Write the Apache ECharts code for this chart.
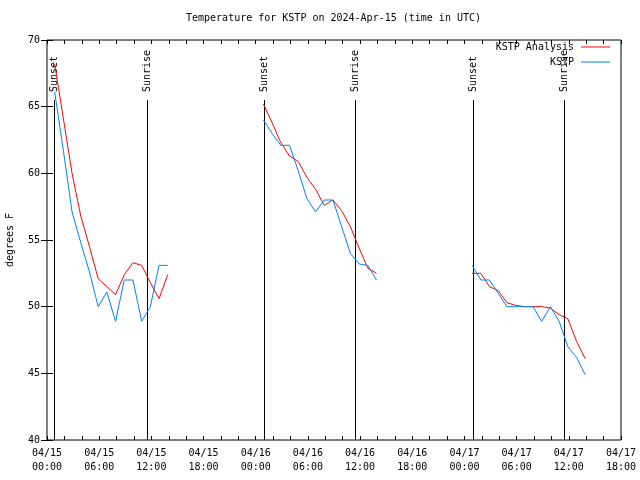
<!DOCTYPE html>
<html>
<head>
<meta charset="utf-8">
<script src="https://cdn.jsdelivr.net/npm/echarts@6/dist/echarts.min.js"></script>
<style>html,body{margin:0;padding:0;background:#fff;}#chart{width:640px;height:480px;}</style>
</head>
<body>
<div id="chart"></div>
<script>
// ---- data ----
const nightDates = ['2024-04-15', '2024-04-16', '2024-04-17'];
const obsTimes = ['00:53','01:53','02:53','03:53','04:53','05:53','06:53','07:53','08:53','09:53','10:53','11:53','12:53','13:53'];
const analysisNight1 = [68.2, 64.1, 60.0, 56.8, 54.5, 52.1, 51.5, 50.9, 52.4, 53.3, 53.1, 51.8, 50.6, 52.4];
const analysisNight2 = [65.2, 63.8, 62.3, 61.3, 60.9, 59.7, 58.8, 57.6, 58.0, 57.2, 56.0, 54.4, 52.9, 52.5];
const analysisNight3 = [52.5, 52.5, 51.5, 51.2, 50.3, 50.1, 50.0, 50.0, 50.0, 49.9, 49.4, 49.1, 47.4, 46.1];
const kstpNight1 = [66.1, 61.7, 57.1, 54.8, 52.6, 50.0, 51.1, 48.9, 52.0, 52.0, 48.9, 50.0, 53.1, 53.1];
const kstpNight2 = [64.0, 63.0, 62.1, 62.1, 60.2, 58.1, 57.1, 58.0, 58.0, 56.0, 54.0, 53.2, 53.1, 52.0];
const kstpNight3 = [53.1, 52.0, 52.0, 51.0, 50.0, 50.0, 50.0, 50.0, 48.9, 50.0, 48.9, 47.0, 46.2, 44.9];
const sunEvents = ['2024-04-15 00:47', '2024-04-15 11:30', '2024-04-16 00:56', '2024-04-16 11:27', '2024-04-17 00:56', '2024-04-17 11:30'];
const sunLabels = ['Sunset', 'Sunrise', 'Sunset', 'Sunrise', 'Sunset', 'Sunrise'];
const yTicks = [40, 45, 50, 55, 60, 65, 70];
const titleText = 'Temperature for KSTP on 2024-Apr-15 (time in UTC)';

// ---- helpers ----
const START = Date.parse('2024-04-15T00:00:00Z');
function hrs(str) { return (Date.parse(str.replace(' ', 'T') + ':00Z') - START) / 3600000; }
function nightData(dateIdx, vals) {
  return vals.map((v, i) => [hrs(nightDates[dateIdx] + ' ' + obsTimes[i]), v]);
}
const FONT = 'DejaVu Sans Mono';
const RED = '#ff0000', BLUE = '#0080ff';
function pad(n) { return (n < 10 ? '0' : '') + n; }

const analysisSets = [analysisNight1, analysisNight2, analysisNight3];
const kstpSets = [kstpNight1, kstpNight2, kstpNight3];
const series = [];
analysisSets.forEach((vals, i) => series.push({
  type: 'line', name: 'KSTP Analysis', data: nightData(i, vals), showSymbol: false,
  lineStyle: { color: RED, width: 1 }, itemStyle: { color: RED }, z: 3
}));
kstpSets.forEach((vals, i) => series.push({
  type: 'line', name: 'KSTP', data: nightData(i, vals), showSymbol: false,
  lineStyle: { color: BLUE, width: 1 }, itemStyle: { color: BLUE }, z: 4
}));
series.push({
  type: 'custom', name: 'sun', silent: true, z: 2,
  data: sunEvents.map(s => [hrs(s)]),
  renderItem: function (params, api) {
    const x = api.value(0);
    const p0 = api.coord([x, 40]);
    const p1 = api.coord([x, 65.5]);
    const pt = api.coord([x, 66.1]);
    const xx = Math.round(p0[0]) + 0.5;
    return {
      type: 'group', children: [
        { type: 'line', shape: { x1: xx, y1: p0[1], x2: xx, y2: p1[1] }, style: { stroke: '#000', lineWidth: 1 } },
        { type: 'text', x: xx, y: pt[1], rotation: Math.PI / 2,
          style: { text: sunLabels[params.dataIndex], align: 'left', verticalAlign: 'middle', font: '10px ' + FONT, fill: '#000' } }
      ]
    };
  }
});

const chart = echarts.init(document.getElementById('chart'), null, { renderer: 'canvas' });
chart.setOption({
  animation: false,
  backgroundColor: '#fff',
  textStyle: { fontFamily: FONT },
  title: {
    text: titleText, left: 186, top: 13, padding: 0,
    textStyle: { fontFamily: FONT, fontSize: 10, fontWeight: 'normal', color: '#000' }
  },
  legend: [
    { data: ['KSTP Analysis'], right: 30, top: 42, padding: 0, align: 'right', icon: 'rect', itemWidth: 29, itemHeight: 1, itemGap: 0,
      textStyle: { fontFamily: FONT, fontSize: 10, color: '#000', padding: [0, 2, 0, 0] } },
    { data: ['KSTP'], right: 30, top: 57, padding: 0, align: 'right', icon: 'rect', itemWidth: 29, itemHeight: 1, itemGap: 0,
      textStyle: { fontFamily: FONT, fontSize: 10, color: '#000', padding: [0, 2, 0, 0] } }
  ],
  grid: { left: 47, right: 19, top: 40, bottom: 40, show: true, borderColor: '#000', borderWidth: 1,
    containLabel: false, outerBoundsMode: 'none' },
  xAxis: [
    { type: 'value', min: 0, max: 66, interval: 6, position: 'bottom',
      axisLine: { show: false },
      axisTick: { show: true, inside: true, length: 4, lineStyle: { color: '#000' } },
      minorTick: { show: true, splitNumber: 3, length: 4, lineStyle: { color: '#000' } },
      splitLine: { show: false },
      axisLabel: { margin: 6, fontFamily: FONT, fontSize: 10, color: '#000', lineHeight: 14,
        showMinLabel: true, showMaxLabel: true,
        formatter: function (v) { const d = new Date(START + v * 3600000); return pad(d.getUTCMonth() + 1) + '/' + pad(d.getUTCDate()) + '\n' + pad(d.getUTCHours()) + ':' + pad(d.getUTCMinutes()); } } },
    { type: 'value', min: 0, max: 66, interval: 6, position: 'top',
      axisLine: { show: false },
      axisTick: { show: true, inside: true, length: 4, lineStyle: { color: '#000' } },
      minorTick: { show: true, splitNumber: 3, length: 4, lineStyle: { color: '#000' } },
      splitLine: { show: false }, axisLabel: { show: false } }
  ],
  yAxis: [
    { type: 'value', min: yTicks[0], max: yTicks[yTicks.length - 1], interval: 5, position: 'left',
      name: 'degrees F', nameLocation: 'middle', nameGap: 32,
      nameTextStyle: { fontFamily: FONT, fontSize: 10, color: '#000' },
      axisLine: { show: false },
      axisTick: { show: true, inside: true, length: 6, lineStyle: { color: '#000' } },
      splitLine: { show: false },
      axisLabel: { margin: 7, fontFamily: FONT, fontSize: 10, color: '#000' } },
    { type: 'value', min: yTicks[0], max: yTicks[yTicks.length - 1], interval: 5, position: 'right',
      axisLine: { show: false },
      axisTick: { show: true, inside: true, length: 6, lineStyle: { color: '#000' } },
      splitLine: { show: false }, axisLabel: { show: false } }
  ],
  series: series
});
</script>
</body>
</html>
